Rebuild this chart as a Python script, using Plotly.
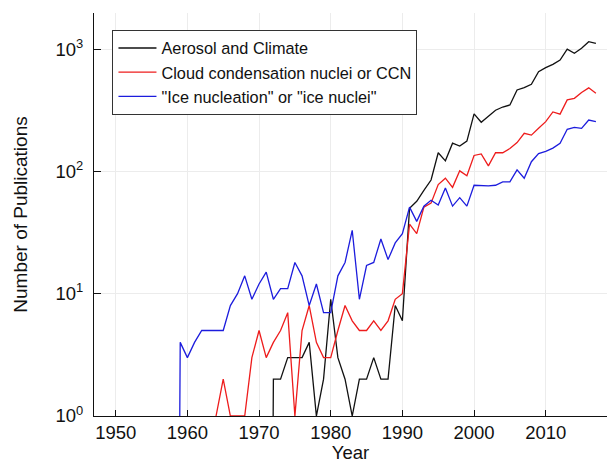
import plotly.graph_objects as go

years = list(range(1950, 2018))

aerosol_climate = [0]*22 + [
    2, 2, 3, 3, 3, 4, 1, 2, 9, 3,          # 1972-1981
    2, 1, 2, 2, 3, 2, 2, 8, 6, 50,         # 1982-1991
    57, 70, 85, 142, 122, 170, 161, 177, 295, 252,   # 1992-2001
    280, 316, 336, 349, 463, 484, 515, 654, 705, 750,  # 2002-2011
    814, 1000, 923, 1014, 1150, 1115]      # 2012-2017

ccn = [0]*14 + [
    1, 2, 1, 1, 1, 3, 5, 3, 4, 5,          # 1964-1973
    7, 1, 5, 8, 4, 3, 3, 5, 8, 6,          # 1974-1983
    5, 5, 6, 5, 6, 9, 10, 37, 31, 51,      # 1984-1993
    55, 78, 88, 74, 101, 92, 135, 139, 111, 142,  # 1994-2003
    142, 154, 172, 205, 198, 225, 255, 306, 294, 384,  # 2004-2013
    396, 442, 482, 435]                    # 2014-2017

ice = [0]*9 + [
    4, 3, 4, 5, 5, 5, 5, 8, 10, 14,        # 1959-1968
    9, 12, 15, 9, 11, 11, 18, 14, 8, 12,   # 1969-1978
    7, 7, 14, 18, 33, 9, 17, 18, 28, 19,   # 1979-1988
    26, 31, 51, 39, 52, 58, 53, 73, 52, 61,  # 1989-1998
    52, 77, 76, 76, 77, 82, 82, 103, 88, 120,  # 1999-2008
    140, 146, 155, 170, 221, 229, 225, 263, 255]  # 2009-2017

series_names = ["Aerosol and Climate", "Cloud condensation nuclei or CCN",
                "\"Ice nucleation\" or \"ice nuclei\""]
series_colors = ["#111111", "#ee1c1c", "#1c1cdd"]

y_tickvals = [1, 10, 100, 1000]
y_ticktext = ["10<sup>0</sup>", "10<sup>1</sup>", "10<sup>2</sup>", "10<sup>3</sup>"]
x_tickvals = [1950, 1960, 1970, 1980, 1990, 2000, 2010]


def for_log(vals):
    # zero counts cannot sit on a log axis; push them far below the visible range
    return [v if v > 0 else 1e-9 for v in vals]


fig = go.Figure()
for vals, name, col in zip([aerosol_climate, ccn, ice], series_names, series_colors):
    fig.add_trace(go.Scatter(x=years, y=for_log(vals), mode="lines", name=name,
                             line=dict(color=col, width=1.3)))

font_family = "Liberation Sans, Arial, Helvetica, sans-serif"

fig.update_layout(
    width=607, height=463,
    margin=dict(l=94, r=0, t=13, b=47),
    paper_bgcolor="white", plot_bgcolor="white",
    font=dict(family=font_family, size=18.5, color="#111111"),
    showlegend=True,
    legend=dict(x=0.036, y=0.958, xanchor="left", yanchor="top",
                bgcolor="white", bordercolor="#333333", borderwidth=1,
                font=dict(size=16.3, color="#111111"),
                itemwidth=38, tracegroupgap=0),
    xaxis=dict(
        range=[1946.97, 2018.55], tickvals=x_tickvals,
        showline=True, linecolor="#111111", linewidth=1.2, mirror=False,
        ticks="inside", ticklen=6, tickcolor="#111111", tickwidth=1,
        showgrid=True, gridcolor="#ececec", gridwidth=1,
        zeroline=False,
        title=dict(text="Year", standoff=6, font=dict(size=18.5)),
    ),
    yaxis=dict(
        type="log", range=[0, 3.295], tickvals=y_tickvals, ticktext=y_ticktext,
        showline=True, linecolor="#111111", linewidth=1.2, mirror=False,
        ticks="inside", ticklen=7, tickcolor="#111111", tickwidth=1,
        ticklabelstandoff=6,
        showgrid=True, gridcolor="#ececec", gridwidth=1,
        zeroline=False,
        title=dict(text="Number of Publications", standoff=22, font=dict(size=19)),
    ),
)

fig.write_html("out.html")
